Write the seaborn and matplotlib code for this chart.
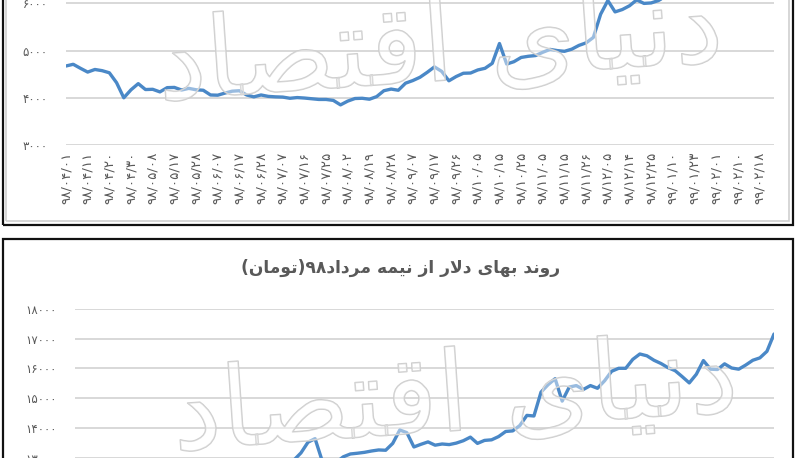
import matplotlib
matplotlib.use("Agg")
import matplotlib.pyplot as plt
import matplotlib.patheffects as pe
import seaborn as sns
import pandas as pd
from matplotlib.patches import Rectangle

sns.set_theme(style="white")
plt.rcParams['font.family'] = ['DejaVu Sans']

# ---------------- data ----------------
top_dates = ["۹۸/۰۴/۰۱", "۹۸/۰۴/۱۱", "۹۸/۰۴/۲۰", "۹۸/۰۴/۳۰", "۹۸/۰۵/۰۸", "۹۸/۰۵/۱۷",
             "۹۸/۰۵/۲۸", "۹۸/۰۶/۰۷", "۹۸/۰۶/۱۷", "۹۸/۰۶/۲۸", "۹۸/۰۷/۰۷", "۹۸/۰۷/۱۶",
             "۹۸/۰۷/۲۵", "۹۸/۰۸/۰۲", "۹۸/۰۸/۱۹", "۹۸/۰۸/۲۸", "۹۸/۰۹/۰۷", "۹۸/۰۹/۱۷",
             "۹۸/۰۹/۲۶", "۹۸/۱۰/۰۵", "۹۸/۱۰/۱۵", "۹۸/۱۰/۲۵", "۹۸/۱۱/۰۵", "۹۸/۱۱/۱۵",
             "۹۸/۱۱/۲۶", "۹۸/۱۲/۰۵", "۹۸/۱۲/۱۴", "۹۸/۱۲/۲۵", "۹۹/۰۱/۱۰", "۹۹/۰۱/۲۳",
             "۹۹/۰۲/۰۱", "۹۹/۰۲/۱۰", "۹۹/۰۲/۱۸"]

top_values = [4674, 4710, 4625, 4545, 4600, 4575, 4530, 4320, 4000, 4170,
              4300, 4175, 4180, 4125, 4215, 4220, 4165, 4200, 4170, 4160,
              4060, 4055, 4100, 4140, 4150, 4060, 4020, 4060, 4030, 4020,
              4015, 3990, 4005, 3995, 3980, 3965, 3965, 3945, 3850, 3930,
              3985, 3990, 3970, 4025, 4150, 4185, 4160, 4310, 4365, 4435,
              4540, 4655, 4560, 4360, 4450, 4520, 4525, 4590, 4625, 4730,
              5150, 4715, 4765, 4855, 4880, 4895, 4965, 5025, 5000, 4985,
              5030, 5110, 5165, 5280, 5770, 6060, 5820, 5870, 5950, 6075,
              6000, 6010, 6060, 6150, 6300, 6450, 6600, 6750, 6900, 7050,
              7150, 7300, 7450, 7500, 7600, 7700, 7750, 7850, 7900]
top_yticks = [3000, 4000, 5000, 6000, 7000, 8000]

bottom_values = [12050, 12120, 12080, 12200, 12260, 12180, 12300, 12350, 12280, 12400,
                 12450, 12380, 12500, 12560, 12480, 12600, 12550, 12650, 12700, 12620,
                 12680, 12750, 12700, 12760, 12780, 12720, 12790, 12800, 12760, 12800,
                 12820, 12920, 13160, 13520, 13640, 12900, 12750, 12850, 13030, 13125,
                 13150, 13180, 13225, 13260, 13250, 13480, 13930, 13840, 13360, 13450,
                 13530, 13420, 13460, 13440, 13490, 13570, 13690, 13480, 13580, 13600,
                 13710, 13880, 13900, 14080, 14420, 14400, 15200, 15450, 15650, 14900,
                 15370, 15420, 15290, 15420, 15330, 15580, 15900, 16000, 16000, 16300,
                 16480, 16420, 16270, 16160, 16020, 15920, 15720, 15510, 15800, 16260,
                 15970, 15960, 16150, 16010, 15970, 16110, 16270, 16350, 16570, 17150]
bottom_yticks = [10000, 11000, 12000, 13000, 14000, 15000, 16000, 17000, 18000]

title_text = "روند بهای دلار از نیمه مرداد۹۸(تومان)"
watermark_text = "دنیای اقتصاد"

# ---------------- helpers ----------------
FA_DIGITS = str.maketrans("0123456789", "۰۱۲۳۴۵۶۷۸۹")
DIGITS = "۰۱۲۳۴۵۶۷۸۹"
FORMS = {  # isolated, final, initial, medial
    'ا': ('\uFE8D', '\uFE8E', None, None),
    'ب': ('\uFE8F', '\uFE90', '\uFE91', '\uFE92'),
    'ت': ('\uFE95', '\uFE96', '\uFE97', '\uFE98'),
    'د': ('\uFEA9', '\uFEAA', None, None),
    'ر': ('\uFEAD', '\uFEAE', None, None),
    'ز': ('\uFEAF', '\uFEB0', None, None),
    'ص': ('\uFEB9', '\uFEBA', '\uFEBB', '\uFEBC'),
    'ق': ('\uFED5', '\uFED6', '\uFED7', '\uFED8'),
    'ل': ('\uFEDD', '\uFEDE', '\uFEDF', '\uFEE0'),
    'م': ('\uFEE1', '\uFEE2', '\uFEE3', '\uFEE4'),
    'ن': ('\uFEE5', '\uFEE6', '\uFEE7', '\uFEE8'),
    'ه': ('\uFEE9', '\uFEEA', '\uFEEB', '\uFEEC'),
    'و': ('\uFEED', '\uFEEE', None, None),
    'ی': ('\uFBFC', '\uFBFD', '\uFBFE', '\uFBFF'),
}


def _dual(c):
    return c in FORMS and FORMS[c][2] is not None


def shape(s):
    out, i, n = [], 0, len(s)
    while i < n:
        c = s[i]
        if c not in FORMS:
            out.append(c)
            i += 1
            continue
        jp = i > 0 and _dual(s[i - 1])
        if c == 'ل' and i + 1 < n and s[i + 1] == 'ا':
            out.append('\uFEFC' if jp else '\uFEFB')
            i += 2
            continue
        jn = _dual(c) and i + 1 < n and s[i + 1] in FORMS
        iso, fin, ini, med = FORMS[c]
        out.append(med if (jp and jn) else fin if jp else ini if jn else iso)
        i += 1
    return out


def rtl(s):
    tokens = []
    for ch in shape(s):
        if ch in DIGITS and tokens and tokens[-1][0] in DIGITS:
            tokens[-1] += ch
        else:
            tokens.append(ch)
    mirror = {'(': ')', ')': '('}
    return ''.join(mirror.get(t, t) for t in reversed(tokens))


def fa(v):
    return str(int(v)).translate(FA_DIGITS)


W, H = 800, 458


def fx(px):
    return px / W


def fy(py):
    return 1 - py / H


# ---------------- figure ----------------
fig = plt.figure(figsize=(8, 4.58), dpi=100)
fig.patch.set_facecolor("white")

line_color = "#4a88c7"
grid_color = "#d6d6d6"
text_color = "#595959"

# top panel: 3000 at y=145, 47.2 px per 1000
t_left, t_right = 66, 774
t_bottom = 145
t_ppu = 47.2 / 1000
t_ylim = (3000, 8000)
t_height = (t_ylim[1] - t_ylim[0]) * t_ppu
ax1 = fig.add_axes([fx(t_left), fy(t_bottom), (t_right - t_left) / W, t_height / H])
df_top = pd.DataFrame({"i": range(len(top_values)), "v": top_values})
sns.lineplot(data=df_top, x="i", y="v", ax=ax1, color=line_color, linewidth=2.4)
ax1.set_xlim(0, len(top_values) - 1)
ax1.set_ylim(*t_ylim)
ax1.set_yticks(top_yticks)
ax1.set_yticklabels([fa(v) for v in top_yticks], fontsize=8.5, color=text_color)
ax1.set_xticks(range(0, 3 * len(top_dates), 3))
ax1.set_xticklabels(top_dates, rotation=90, fontsize=9.6, color=text_color)
ax1.tick_params(axis="y", length=0, pad=13)
ax1.tick_params(axis="x", length=0, pad=5)

# bottom panel: 18000 at y=308.7, 29.8 px per 1000
b_left, b_right = 75, 774
b_top = 308.7
b_ppu = 29.8 / 1000
b_ylim = (10000, 18000)
b_height = (b_ylim[1] - b_ylim[0]) * b_ppu
ax2 = fig.add_axes([fx(b_left), fy(b_top + b_height), (b_right - b_left) / W, b_height / H])
df_bot = pd.DataFrame({"i": range(len(bottom_values)), "v": bottom_values})
sns.lineplot(data=df_bot, x="i", y="v", ax=ax2, color=line_color, linewidth=2.4)
ax2.set_xlim(0, len(bottom_values) - 1)
ax2.set_ylim(*b_ylim)
ax2.set_yticks(bottom_yticks)
ax2.set_yticklabels([fa(v) for v in bottom_yticks], fontsize=8.5, color=text_color)
ax2.set_xticks([])
ax2.tick_params(axis="y", length=0, pad=13)

for ax in (ax1, ax2):
    ax.set_xlabel("")
    ax.set_ylabel("")
    ax.set_facecolor("none")
    for sp in ax.spines.values():
        sp.set_visible(False)
    ax.yaxis.grid(True, color=grid_color, linewidth=1.3)
    ax.xaxis.grid(False)
    ax.set_axisbelow(True)

fig.text(fx(401), fy(268), rtl(title_text), ha="center", va="center",
         fontsize=12.3, fontweight="bold", color=text_color)

# watermark (thin outline, faint)
wm_effects = [pe.Stroke(linewidth=1.1, foreground="#cdcdcd"), pe.Normal()]
for (cx, cy, size) in [(440, 50, 80), (455, 400, 80)]:
    fig.text(fx(cx), fy(cy), rtl(watermark_text), ha="center", va="center",
             fontsize=size, color=(1, 1, 1, 0.25), rotation=4,
             path_effects=wm_effects, zorder=5)

# frames
fig.add_artist(Rectangle((fx(6), fy(221)), (789 - 6) / W, (221 + 10) / H,
                         transform=fig.transFigure, fill=False,
                         edgecolor="#cfcfcf", linewidth=1.2))
fig.add_artist(Rectangle((fx(3), fy(224.5)), (793 - 3) / W, (224.5 + 10) / H,
                         transform=fig.transFigure, fill=False,
                         edgecolor="#111111", linewidth=1.6))
fig.add_artist(Rectangle((fx(3), fy(470)), (793 - 3) / W, (470 - 239) / H,
                         transform=fig.transFigure, fill=False,
                         edgecolor="#111111", linewidth=1.6))

fig.savefig("out.png", dpi=100, facecolor="white")
